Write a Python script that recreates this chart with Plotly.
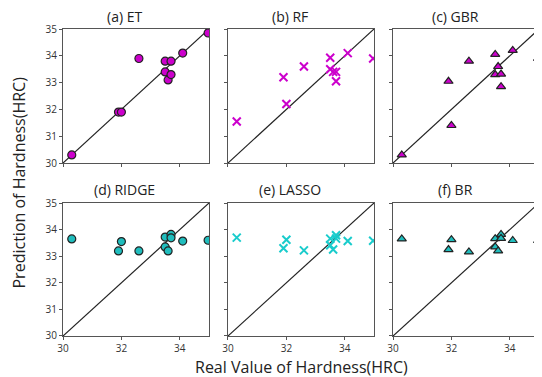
import plotly.graph_objects as go
from plotly.subplots import make_subplots

# ---- data ----
real = [30.3, 31.9, 32.0, 32.6, 33.5, 33.5, 33.6, 33.7, 33.7, 34.1, 34.97]
pred_et = [30.3, 31.9, 31.9, 33.9, 33.8, 33.4, 33.1, 33.8, 33.3, 34.1, 34.85]
pred_rf = [31.55, 33.2, 32.2, 33.6, 33.93, 33.5, 33.4, 33.4, 33.05, 34.1, 33.9]
pred_gbr = [30.3, 33.05, 31.4, 33.8, 34.05, 33.3, 33.6, 33.32, 32.85, 34.2, 33.9]
pred_ridge = [33.65, 33.2, 33.55, 33.2, 33.72, 33.35, 33.2, 33.82, 33.69, 33.57, 33.6]
pred_lasso = [33.7, 33.3, 33.62, 33.22, 33.66, 33.41, 33.25, 33.79, 33.66, 33.57, 33.58]
pred_br = [33.65, 33.25, 33.62, 33.16, 33.66, 33.35, 33.2, 33.82, 33.67, 33.59, 33.59]

titles = ["(a) ET", "(b) RF", "(c) GBR", "(d) RIDGE", "(e) LASSO", "(f) BR"]
axis_range = [30, 35]
y_ticks = [30, 31, 32, 33, 34, 35]
x_ticks = [30, 32, 34]

MAGENTA = "#CC00CC"
TEAL = "#1FBDBD"
CYAN = "#19CCCC"

series = [
    (pred_et, "circle", MAGENTA),
    (pred_rf, "x-thin", MAGENTA),
    (pred_gbr, "triangle-up", MAGENTA),
    (pred_ridge, "circle", TEAL),
    (pred_lasso, "x-thin", CYAN),
    (pred_br, "triangle-up", TEAL),
]

fig = make_subplots(rows=2, cols=3)

for i, (vals, sym, col) in enumerate(series):
    r, c = i // 3 + 1, i % 3 + 1
    fig.add_trace(go.Scatter(x=axis_range, y=axis_range, mode="lines",
                             line=dict(color="#222222", width=1.2),
                             showlegend=False, hoverinfo="skip"), row=r, col=c)
    if sym == "x-thin":
        marker = dict(symbol=sym, size=8, color=col,
                      line=dict(color=col, width=2))
    else:
        marker = dict(symbol=sym, size=8, color=col,
                      line=dict(color="#222222", width=1.2))
    fig.add_trace(go.Scatter(x=real, y=vals, mode="markers", marker=marker,
                             showlegend=False, cliponaxis=True), row=r, col=c)

xdomains = [[0, 0.3067], [0.3466, 0.6534], [0.6933, 1.0]]
ydomains = [[0.5635, 1.0], [0.0, 0.4332]]

for i in range(6):
    r, c = i // 3 + 1, i % 3 + 1
    fig.update_xaxes(row=r, col=c, domain=xdomains[c - 1], range=axis_range,
                     tickvals=x_ticks, showticklabels=(r == 2), automargin=False,
                     showline=True, mirror=True, linecolor="#555555", linewidth=1.2,
                     ticks="outside", ticklen=3, tickcolor="#555555",
                     showgrid=False, zeroline=False,
                     tickfont=dict(size=10, color="#333333"))
    fig.update_yaxes(row=r, col=c, domain=ydomains[r - 1], range=axis_range,
                     tickvals=y_ticks, showticklabels=(c == 1), automargin=False,
                     showline=True, mirror=True, linecolor="#555555", linewidth=1.2,
                     ticks="outside", ticklen=3, tickcolor="#555555",
                     showgrid=False, zeroline=False,
                     tickfont=dict(size=10, color="#333333"))
    xc = (xdomains[c - 1][0] + xdomains[c - 1][1]) / 2
    fig.add_annotation(text=titles[i], x=xc, y=ydomains[r - 1][1], xref="paper", yref="paper",
                       xanchor="center", yanchor="bottom", yshift=1 if r == 1 else 2,
                       xshift=-11, showarrow=False,
                       font=dict(size=14, color="#222222"))

fig.add_annotation(text="Real Value of Hardness(HRC)", x=0.5, y=0, xref="paper", yref="paper",
                   xanchor="center", yanchor="top", yshift=-18, showarrow=False,
                   font=dict(size=16, color="#222222"))
fig.add_annotation(text="Prediction of Hardness(HRC)", x=0, y=0.5, xref="paper", yref="paper",
                   xanchor="right", yanchor="middle", xshift=-32, textangle=-90, showarrow=False,
                   font=dict(size=16, color="#222222"))

# page body has an 8px default margin; margins are offset to place the plot areas
fig.update_layout(width=534, height=369, margin=dict(l=55, r=3, t=21, b=41, autoexpand=False),
                  paper_bgcolor="white", plot_bgcolor="white",
                  font=dict(family="Open Sans, sans-serif"))

fig.write_html("out.html")
